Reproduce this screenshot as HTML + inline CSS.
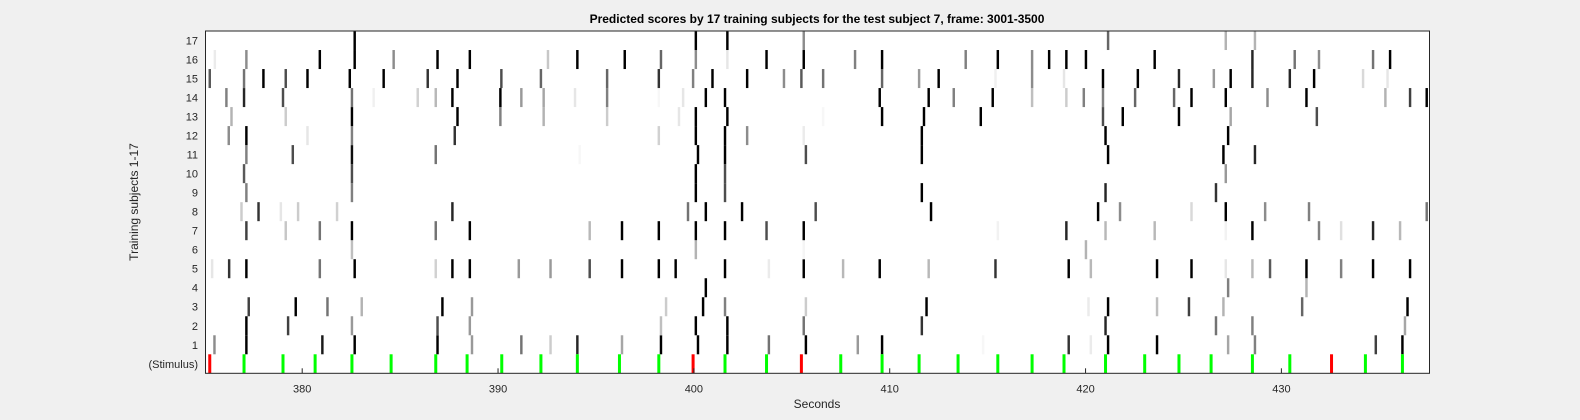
<!DOCTYPE html>
<html><head><meta charset="utf-8"><style>
body{margin:0;background:#f0f0f0;}
svg{display:block;font-family:"Liberation Sans",Arial,sans-serif;}
</style></head><body>
<svg id="chart" width="1580" height="420" viewBox="0 0 1580 420" xmlns="http://www.w3.org/2000/svg">
<rect x="0" y="0" width="1580" height="420" fill="#f0f0f0"/>
<rect x="205.5" y="31" width="1224" height="342.3" fill="#ffffff"/>
<g id="marks"></g>
<g id="axes"></g>
<rect x="205.5" y="31" width="1224" height="342.3" fill="none" stroke="#262626" stroke-width="1"/>
<text x="817" y="23" text-anchor="middle" font-size="12" font-weight="bold" fill="#000">Predicted scores by 17 training subjects for the test subject 7, frame: 3001-3500</text>
<text x="817" y="408" text-anchor="middle" font-size="12" fill="#262626">Seconds</text>
<text x="0" y="0" transform="translate(138,202) rotate(-90)" text-anchor="middle" font-size="12" fill="#262626">Training subjects 1-17</text>
</svg>
<script>
const xTicks = [380, 390, 400, 410, 420, 430];
const yLabels = ["(Stimulus)", "1", "2", "3", "4", "5", "6", "7", "8", "9", "10", "11", "12", "13", "14", "15", "16", "17"];
const stimTimes = [375.28, 377.03, 379.02, 380.66, 382.54, 384.54, 386.82, 388.42, 390.19, 392.19, 394.05, 396.20, 398.21, 399.96, 401.59, 403.71, 405.49, 407.50, 409.61, 411.50, 413.49, 415.52, 417.27, 418.90, 421.02, 423.02, 424.77, 426.41, 428.52, 430.43, 432.56, 434.29, 436.18];
const stimIsError = [1,0,0,0,0,0,0,0,0,0,0,0,0,1,0,0,1,0,0,0,0,0,0,0,0,0,0,0,0,0,1,0,0];
const s1 = [[375.52,0.45],[377.15,1],[381.03,0.9],[382.68,1],[386.91,1],[388.67,0.4],[391.19,0.55],[392.68,0.2],[394.05,0.85],[396.33,0.35],[398.32,1],[400.21,1],[401.71,1],[403.83,0.55],[405.72,1],[408.37,0.4],[409.61,1],[414.77,0.03],[419.14,0.8],[420.27,0.08],[421.15,1],[423.65,1],[427.28,0.35],[428.65,0.5],[434.82,0.75],[436.18,1]];
const s2 = [[377.15,1],[379.28,0.75],[382.54,0.4],[386.91,0.7],[388.56,0.4],[398.32,0.25],[400.10,1],[401.71,1],[405.61,0.55],[411.64,0.8],[421.02,0.85],[426.66,0.55],[428.52,0.5],[436.31,0.35]];
const s3 = [[377.27,0.75],[379.67,1],[381.29,0.55],[383.04,0.3],[387.16,1],[388.67,0.4],[398.58,0.2],[400.47,1],[401.59,0.5],[405.72,0.2],[411.88,1],[420.15,0.08],[421.15,1],[423.65,0.25],[425.28,0.75],[427.04,0.3],[431.06,0.6],[436.44,1]];
const s4 = [[400.61,1],[427.28,0.5],[431.28,0.3]];
const s5 = [[375.40,0.1],[376.27,0.8],[377.15,1],[380.90,0.55],[382.68,1],[386.82,0.18],[387.67,1],[388.56,1],[391.06,0.4],[392.68,0.4],[394.68,0.7],[396.33,1],[398.21,1],[399.07,1],[401.59,1],[403.83,0.08],[405.61,1],[407.62,0.28],[409.49,1],[411.99,0.28],[415.40,0.8],[419.14,1],[420.27,0.28],[423.65,1],[425.41,1],[427.16,0.1],[428.52,0.28],[429.42,0.65],[431.28,1],[433.05,0.5],[434.68,1],[436.57,1]];
const s6 = [[382.54,0.25],[400.10,0.3],[405.61,0.04],[420.02,0.3]];
const s7 = [[377.15,0.75],[379.16,0.22],[380.90,0.55],[382.54,1],[386.82,0.55],[388.56,1],[394.68,0.28],[396.33,1],[398.21,1],[400.10,1],[401.59,1],[403.71,0.7],[405.61,1],[415.52,0.05],[419.02,0.85],[421.02,0.28],[423.53,0.28],[427.16,0.05],[428.52,1],[431.92,0.5],[433.05,0.12],[434.68,0.85],[436.06,0.28]];
const s8 = [[376.90,0.2],[377.77,0.8],[378.91,0.1],[379.79,0.2],[381.78,0.18],[387.67,0.85],[399.70,0.55],[400.61,1],[402.46,1],[406.22,0.7],[412.11,1],[420.64,1],[421.76,0.45],[425.41,0.15],[427.16,1],[429.17,0.45],[431.41,0.5],[437.42,0.55]];
const s9 = [[377.15,0.5],[382.54,0.5],[400.10,1],[401.59,0.7],[411.64,1],[421.02,0.85],[426.66,0.8]];
const s10 = [[377.03,0.65],[382.54,0.7],[400.10,1],[401.59,0.7],[427.16,0.4]];
const s11 = [[377.15,0.5],[379.52,0.7],[382.54,0.95],[386.82,0.55],[394.17,0.03],[400.21,1],[401.59,1],[405.72,0.7],[411.64,1],[421.15,1],[427.04,1],[428.65,0.85]];
const s12 = [[376.25,0.45],[377.15,1],[380.27,0.1],[382.54,0.5],[387.79,0.8],[398.21,0.18],[400.10,1],[401.59,1],[402.72,0.45],[405.61,0.08],[411.64,1],[421.02,1],[427.28,1]];
const s13 = [[376.39,0.3],[379.16,0.2],[382.54,1],[387.93,1],[390.12,0.5],[392.33,0.3],[395.57,0.2],[399.24,0.1],[400.10,1],[401.71,1],[406.60,0.03],[409.61,1],[411.75,1],[414.65,1],[420.89,0.7],[421.90,1],[424.77,1],[427.41,0.35],[431.81,0.7]];
const s14 = [[376.13,0.5],[377.03,0.85],[379.02,0.7],[382.54,0.55],[383.65,0.06],[385.90,0.18],[386.82,0.28],[387.67,1],[390.12,1],[391.19,0.4],[392.33,0.35],[393.93,0.1],[395.57,0.5],[398.21,0.03],[399.45,0.1],[400.61,1],[401.59,1],[409.49,1],[411.99,1],[413.27,0.5],[415.26,1],[417.27,0.25],[419.02,0.2],[419.91,0.5],[420.89,0.5],[422.53,0.6],[424.52,0.6],[425.41,1],[427.16,1],[429.29,0.45],[431.28,1],[435.31,0.3],[436.57,0.75],[437.42,1]];
const s15 = [[375.28,0.65],[377.03,0.55],[378.02,1],[379.16,0.7],[380.27,1],[382.43,1],[384.16,1],[386.41,0.8],[387.93,1],[390.17,0.7],[392.19,0.6],[395.57,0.6],[398.21,0.8],[399.96,0.5],[400.95,1],[402.72,1],[404.60,0.45],[405.49,0.65],[406.60,0.55],[409.61,0.6],[411.50,0.4],[412.50,1],[415.40,0.06],[417.27,0.45],[418.90,0.1],[420.89,1],[422.67,1],[424.77,0.85],[426.55,0.4],[427.41,1],[428.52,0.85],[430.43,0.85],[431.67,1],[434.17,0.15],[435.42,0.1]];
const s16 = [[375.54,0.08],[377.15,0.45],[380.90,1],[382.68,1],[384.67,0.45],[386.91,1],[388.56,1],[392.55,0.22],[394.05,1],[396.47,1],[398.32,0.6],[400.10,0.45],[401.71,0.1],[403.71,1],[405.61,1],[408.23,0.5],[409.61,1],[413.88,0.5],[415.52,1],[417.27,0.45],[418.14,1],[419.02,1],[420.02,1],[423.53,1],[428.52,0.85],[430.68,0.55],[431.92,0.45],[434.68,0.55],[435.55,1]];
const s17 = [[382.68,1],[400.10,1],[401.71,1],[405.61,0.45],[421.15,0.6],[427.16,0.3],[428.65,0.3]];

const subjects = [s1,s2,s3,s4,s5,s6,s7,s8,s9,s10,s11,s12,s13,s14,s15,s16,s17];
const NS = "http://www.w3.org/2000/svg";
const X0 = 205.5, X1 = 1429.5, T0 = 375.0625, T1 = 437.5625;
const Y0 = 31, Y1 = 373.3, ROWS = 18;
const rowH = (Y1 - Y0) / ROWS;
function xs(t){ return X0 + (t - T0) * (X1 - X0) / (T1 - T0); }
function rowTop(r){ return Y1 - (r + 1) * rowH; } // r=0 stimulus, r=1..17 subjects
const frameW = (X1 - X0) / (T1 - T0) * 0.125;
const marks = document.getElementById('marks');
const axes = document.getElementById('axes');

subjects.forEach((rowData, i) => {
  const r = i + 1;
  rowData.forEach(d => {
    const v = Math.round(255 * (1 - d[1]));
    const el = document.createElementNS(NS, 'rect');
    el.setAttribute('x', (xs(d[0]) - frameW/2).toFixed(2));
    el.setAttribute('y', rowTop(r).toFixed(2));
    el.setAttribute('width', frameW.toFixed(2));
    el.setAttribute('height', rowH.toFixed(2));
    el.setAttribute('fill', `rgb(${v},${v},${v})`);
    
    
    marks.appendChild(el);
  });
});
stimTimes.forEach((t, i) => {
  const el = document.createElementNS(NS, 'rect');
  el.setAttribute('x', (xs(t) - 1.5).toFixed(2));
  el.setAttribute('y', rowTop(0).toFixed(2));
  el.setAttribute('width', '3');
  el.setAttribute('height', rowH.toFixed(2));
  el.setAttribute('fill', stimIsError[i] ? '#ff0000' : '#00ff00');
  
  
  marks.appendChild(el);
});
xTicks.forEach(v => {
  const x = xs(v);
  const tk = document.createElementNS(NS, 'line');
  tk.setAttribute('x1', x); tk.setAttribute('x2', x);
  tk.setAttribute('y1', Y1); tk.setAttribute('y2', Y1 - 5);
  tk.setAttribute('stroke', '#262626');
  
  
  axes.appendChild(tk);
  const tx = document.createElementNS(NS, 'text');
  tx.setAttribute('x', x); tx.setAttribute('y', Y1 + 19);
  tx.setAttribute('text-anchor', 'middle');
  tx.setAttribute('font-size', '11');
  tx.setAttribute('fill', '#262626');
  tx.textContent = v;
  
  
  axes.appendChild(tx);
});
yLabels.forEach((lab, r) => {
  const cy = rowTop(r) + rowH/2;
  const tx = document.createElementNS(NS, 'text');
  tx.setAttribute('x', 198); tx.setAttribute('y', cy + 4);
  tx.setAttribute('text-anchor', 'end');
  tx.setAttribute('font-size', '11');
  tx.setAttribute('fill', '#262626');
  tx.textContent = lab;
  
  
  axes.appendChild(tx);
});
</script>
</body></html>
